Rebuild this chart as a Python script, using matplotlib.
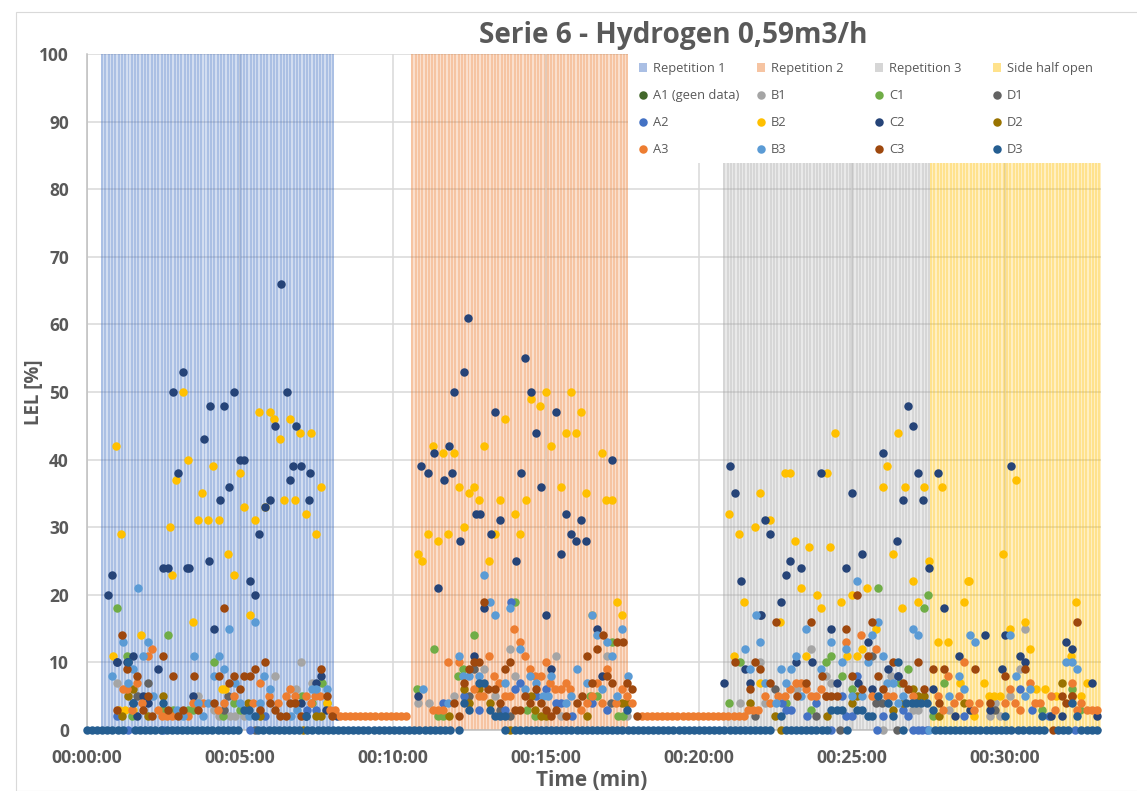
import numpy as np
from matplotlib import pyplot as plt
from matplotlib.patches import Patch, Rectangle

# time is in minutes, values are LEL in %
title = 'Serie 6 - Hydrogen 0,59m3/h'
xtick_minutes = [0, 5, 10, 15, 20, 25, 30]
xtick_labels = ['00:00:00', '00:05:00', '00:10:00', '00:15:00', '00:20:00', '00:25:00', '00:30:00']
ytick_values = [0, 10, 20, 30, 40, 50, 60, 70, 80, 90, 100]

# shaded test phases (start, end)
rep1_span = (0.46, 8.07)
rep2_span = (10.6, 17.67)
rep3_span = (20.8, 27.55)
side_span = (27.55, 33.14)
bar_step = 0.108

# sensors logged every 10 s, long runs sitting on a constant value
sample_step = 1 / 6
d3_zero_runs = [(0, 1.24), (1.57, 2.44), (2.6, 5.1), (5.6, 6.96), (7.2, 11.92), (12.16, 12.17),
                (13.66, 13.67), (14.0, 22.5), (22.84, 24.28), (24.83, 24.84), (26.68, 26.69),
                (27.7, 30.27), (30.44, 31.42), (31.74, 32.12), (32.5, 33.05)]
a3_two_runs = [(8.26, 10.45), (18.13, 21.55)]

a2_t = [0.98, 5.82, 7.18, 7.48, 1.46, 12.8, 11.64, 12.32, 13.99, 14.16, 13.85, 14.99, 14.66, 15.33, 15.49, 16.49, 17.0, 13.66, 15.84,
        26.51, 25.16, 24.68, 23.84, 22.86, 23.0, 24.99, 24.82, 26.0, 30.5, 26.84, 23.52, 26.67, 22.7, 28.67, 30.9, 31.45,
        1.35, 2.49, 5.33, 24.32, 25.83, 27.0, 27.15, 27.3, 27.44, 32.28]
a2_v = [2, 2, 3, 3, 3, 3, 4, 5, 6, 7, 19, 6, 5, 4, 4, 4, 3, 3, 2,
        8, 8, 5, 4, 3, 3, 2, 2, 2, 6, 2, 2, 3, 4, 2, 3, 2,
        0, 0, 0, 0, 0, 0, 0, 0, 0, 0]

b1_t = [0.98, 7.0, 6.14, 7.34, 6.82, 3.64, 4.15, 4.32, 4.67, 4.84, 5.14, 1.66, 12.98, 13.82, 13.99, 15.33, 17.0, 10.83, 11.17, 12.0, 13.33, 15.49, 17.66,
        30.67, 30.49, 23.66, 21.99, 21.34, 24.15, 24.31, 26.29, 23.19, 27.0, 27.17, 29.67, 30.16, 29.5, 29.83, 22.15, 28.18, 26.0]
b1_v = [7, 10, 8, 7, 6, 5, 3, 2, 2, 2, 2, 5, 9, 12, 8, 11, 11, 4, 4, 5, 5, 2, 2,
        15, 9, 12, 10, 4, 8, 7, 8, 6, 3, 3, 4, 5, 2, 2, 4, 3, 0]

c1_t = [0.98, 2.65, 1.32, 4.15, 7.67, 3.47, 2.82, 2.48, 1.46, 4.46, 4.81, 5.0, 7.02, 7.34, 7.83, 3.31,
        11.33, 12.66, 13.99, 17.17, 12.13, 10.8, 11.48, 11.64, 16.68, 16.44, 17.36, 17.53, 14.64, 14.37, 12.3,
        25.84, 27.5, 27.34, 21.34, 20.99, 24.33, 24.15, 24.68, 26.84, 28.0, 25.0, 32.18, 23.66, 22.83, 26.57, 27.66, 31.2, 32.45]
c1_v = [18, 14, 11, 10, 7, 3, 3, 3, 2, 2, 4, 3, 5, 4, 4, 3,
        12, 14, 19, 13, 8, 6, 2, 2, 5, 5, 2, 2, 2, 3, 9,
        21, 20, 18, 10, 4, 11, 10, 8, 9, 7, 6, 6, 3, 4, 7, 2, 3, 3]

d1_t = [1.98, 1.64, 4.62, 4.48, 5.49, 12.66, 12.49, 13.82, 13.5, 17.13,
        25.67, 22.5, 21.84, 23.82, 25.8, 25.97, 29.67, 24.6, 26.48]
d1_v = [7, 5, 5, 3, 0, 9, 5, 2, 3, 4,
        11, 6, 2, 2, 4, 4, 3, 0, 0]

b2_t = [0.85, 0.95, 1.11, 1.76, 2.7, 2.78, 2.9, 3.13, 3.3, 3.46, 3.63, 3.76, 3.95, 4.12, 4.31, 4.5, 4.6, 4.8, 5.0, 5.13, 5.33, 5.49, 5.62, 5.82, 5.98, 6.12, 6.3, 6.44, 6.63, 6.8, 6.96, 7.16, 7.32, 7.5, 7.65,
        1.06, 1.25, 1.5, 4.41, 7.85,
        10.82, 10.95, 11.14, 11.3, 11.47, 11.63, 11.8, 12.0, 12.16, 12.32, 12.48, 12.65, 12.8, 12.97, 13.14, 13.32, 13.5, 13.66, 14.0, 14.15, 14.35, 14.5, 14.8, 15.0, 15.16, 15.5, 15.65, 15.82, 15.98, 16.14, 16.3, 16.83, 16.96, 17.16, 17.32, 17.5, 16.5,
        20.98, 21.14, 21.3, 21.48, 21.84, 22.0, 22.0, 22.32, 22.65, 22.8, 22.97, 23.14, 23.32, 23.5, 23.6, 23.86, 23.99, 24.18, 24.28, 24.44, 24.65, 24.83, 24.99, 25.15, 25.33, 25.5, 25.8, 26.0, 26.14, 26.34, 26.5, 26.65, 26.73, 27.0, 27.15, 27.35, 27.52,
        27.8, 27.94, 28.15, 28.53, 28.66, 28.8, 28.83, 29.0, 29.3, 29.48, 29.65, 29.84, 29.93, 30.16, 30.36, 30.65, 30.83, 31.0, 31.32, 31.67, 32.15, 32.33, 32.5, 32.67]
b2_v = [11, 42, 29, 14, 30, 23, 37, 50, 40, 16, 31, 35, 31, 39, 31, 6, 26, 23, 38, 33, 17, 31, 47, 33, 47, 46, 43, 34, 46, 34, 44, 32, 44, 29, 36,
        3, 3, 3, 6, 4,
        26, 25, 29, 42, 28, 41, 29, 41, 36, 30, 35, 36, 34, 42, 25, 29, 34, 46, 32, 29, 34, 49, 48, 50, 42, 36, 44, 50, 44, 47, 35, 41, 34, 34, 19, 17, 17,
        32, 11, 29, 19, 30, 35, 7, 31, 16, 38, 38, 28, 21, 11, 27, 20, 18, 38, 27, 44, 19, 11, 20, 11, 12, 21, 15, 36, 39, 26, 44, 18, 36, 22, 19, 36, 25,
        13, 36, 13, 7, 19, 22, 22, 2, 7, 5, 5, 5, 26, 15, 37, 16, 12, 6, 6, 5, 11, 19, 5, 7]

c2_t = [0.68, 0.83, 0.98, 1.32, 1.49, 2.32, 2.47, 2.64, 2.82, 2.97, 3.14, 3.27, 3.32, 3.81, 4.0, 4.02, 4.15, 4.35, 4.48, 4.64, 4.81, 5.0, 5.13, 5.32, 5.49, 5.62, 5.82, 5.98, 6.15, 6.33, 6.53, 6.63, 6.73, 6.82, 7.0, 7.25, 7.3,
        0.97, 1.33, 7.48, 7.66, 3.48, 1.49, 2.0, 1.64, 1.82, 6.98, 7.81, 8.16, 7.16,
        10.83, 10.9, 11.14, 11.34, 11.47, 11.67, 11.83, 11.93, 12.0, 12.2, 12.32, 12.45, 12.66, 12.7, 12.84, 12.98, 13.2, 13.33, 13.5, 14.02, 14.18, 14.31, 14.5, 14.67, 14.84, 15.0, 15.16, 15.33, 15.5, 15.65, 15.82, 15.98, 16.14, 16.3, 16.66, 16.82, 17.16,
        20.83, 21.0, 21.18, 21.36, 21.5, 21.66, 22.0, 22.02, 22.16, 22.32, 22.68, 22.83, 22.99, 23.18, 23.35, 23.68, 24.0, 24.33, 24.5, 24.82, 25.0, 25.2, 25.33, 25.51, 25.64, 26.0, 26.18, 26.47, 26.51, 26.67, 26.83, 27.0, 27.16, 27.32, 27.51, 27.66,
        27.8, 28.0, 28.36, 28.5, 28.85, 29.34, 29.5, 29.89, 30.0, 30.2, 30.5, 30.67, 31.51, 31.85, 32.0, 32.19, 32.84, 33.0]
c2_v = [20, 23, 10, 10, 11, 9, 24, 24, 50, 38, 53, 24, 24, 43, 25, 48, 15, 34, 48, 36, 50, 40, 40, 22, 20, 29, 33, 34, 45, 66, 50, 37, 39, 45, 39, 34, 38,
        10, 10, 7, 8, 5, 4, 4, 2, 5, 4, 3, 2, 2,
        5, 39, 38, 41, 21, 37, 42, 38, 50, 28, 53, 61, 11, 32, 32, 18, 29, 47, 31, 25, 38, 55, 50, 44, 36, 17, 9, 47, 26, 32, 29, 28, 31, 28, 15, 8, 40,
        7, 39, 35, 22, 9, 7, 17, 17, 31, 29, 19, 23, 25, 10, 24, 10, 38, 15, 7, 24, 35, 7, 26, 13, 6, 41, 9, 28, 8, 34, 48, 45, 38, 34, 24, 6,
        38, 18, 2, 11, 3, 14, 3, 9, 14, 39, 11, 10, 2, 2, 13, 12, 7, 2]

d2_t = [1.14, 1.49, 1.34, 2.48, 1.98, 5.25, 5.65, 7.48, 7.66, 7.07,
        11.83, 12.32, 12.49, 12.82, 13.16, 14.5, 14.65, 14.84, 14.99, 16.34, 17.5, 17.66, 13.82,
        21.66, 24.17, 22.5, 25.0, 26.35, 27.0, 27.17, 27.34, 27.83, 28.66, 31.85, 32.18, 25.16, 26.67, 22.67]
d2_v = [2, 6, 5, 5, 2, 4, 2, 2, 2, 0,
        2, 6, 4, 6, 4, 5, 3, 2, 2, 2, 4, 4, 0,
        4, 2, 2, 4, 3, 6, 5, 5, 2, 4, 7, 5, 5, 4, 0]

a3_t = [2.14, 1.98, 1.64, 1.17, 1.3, 5.65, 4.81, 6.63, 6.49, 5.96, 6.8, 7.15, 7.45, 7.61, 1.79, 3.45, 3.8, 4.48, 5.44, 6.25, 7.31, 2.31, 1.46, 4.29, 7.94, 8.1, 2.44, 2.6, 2.77, 3.31,
        11.8, 12.15, 13.14, 13.97, 14.15, 14.31, 14.99, 14.48, 13.31, 14.65, 14.83, 16.99, 15.64, 16.66, 15.14, 13.46, 12.65, 15.3, 15.49, 15.8, 17.47, 12.81, 12.95, 13.66, 13.82, 17.64, 16.49, 16.33, 16.82, 17.3, 17.82, 11.32, 11.48, 11.64, 16.13,
        25.31, 24.82, 25.8, 23.16, 23.32, 22.98, 23.49, 23.98, 22.59, 22.8, 22.15, 23.66, 23.82, 24.15, 25.64, 26.13, 26.35, 21.61, 21.77, 21.94, 22.32,
        28.66, 28.15, 30.83, 32.18, 30.16, 31.49, 28.5, 27.81, 27.0, 28.33, 28.83, 29.16, 30.0, 30.32, 30.99, 31.15, 32.5, 27.98, 29.0, 30.49, 32.34, 32.67, 32.83, 33.0, 31.65]
a3_v = [12, 11, 7, 6, 6, 7, 5, 6, 5, 5, 5, 5, 5, 5, 4, 4, 4, 4, 4, 4, 4, 3, 3, 3, 3, 3, 2, 2, 2, 2,
        10, 10, 11, 15, 13, 11, 10, 9, 8, 8, 8, 9, 7, 7, 7, 7, 6, 6, 6, 6, 6, 5, 5, 5, 5, 5, 5, 4, 4, 4, 4, 3, 3, 3, 3,
        14, 13, 12, 7, 7, 6, 6, 6, 5, 5, 5, 5, 5, 5, 5, 5, 5, 3, 3, 3, 4,
        10, 8, 7, 7, 6, 5, 5, 5, 5, 4, 4, 4, 4, 4, 4, 4, 4, 3, 3, 3, 3, 3, 3, 3, 3]

b3_t = [1.66, 5.49, 4.65, 1.17, 1.98, 1.82, 3.49, 4.32, 0.83, 1.51, 4.48, 4.15, 1.34, 4.84, 5.8, 5.98, 7.34, 7.5, 7.83, 2.17, 3.64, 3.97, 5.65, 5.0, 2.94, 3.8, 3.15, 5.3, 6.68, 6.85,
        12.98, 12.15, 13.16, 13.82, 13.33, 16.49, 17.49, 16.66, 17.0, 17.15, 14.16, 16.0, 14.48, 15.16, 17.67, 12.3, 12.5, 12.82, 10.99, 13.66, 14.66, 16.33, 14.31, 16.84, 14.91, 15.08, 15.82, 17.33, 11.8, 15.65,
        25.17, 21.85, 25.84, 23.49, 27.0, 27.17, 25.66, 22.0, 24.33, 21.5, 24.82, 23.17, 26.0, 25.51, 24.69, 21.66, 22.68, 23.0, 24.0, 22.83, 26.16, 26.33, 25.0, 25.34, 26.67, 26.51, 22.15, 23.35, 22.51, 27.52,
        28.85, 29.02, 30.16, 32.0, 32.18, 32.34, 28.67, 28.5, 30.36, 30.83, 28.18, 30.67]
b3_v = [21, 16, 15, 13, 13, 11, 11, 11, 8, 9, 9, 8, 7, 7, 8, 6, 6, 6, 6, 5, 4, 4, 4, 4, 3, 2, 2, 2, 2, 3,
        23, 11, 19, 18, 17, 17, 15, 14, 13, 11, 12, 9, 8, 8, 8, 8, 8, 8, 6, 7, 7, 7, 6, 6, 5, 5, 5, 5, 4, 4,
        22, 17, 16, 15, 15, 14, 14, 13, 13, 12, 12, 11, 11, 10, 10, 9, 9, 9, 9, 7, 7, 7, 5, 5, 5, 4, 7, 5, 4, 0,
        14, 13, 14, 10, 10, 9, 6, 8, 8, 6, 5, 5]

c3_t = [1.14, 4.47, 2.48, 5.82, 1.32, 5.49, 7.66, 1.64, 2.82, 3.49, 4.32, 4.81, 5.14, 5.33, 4.65, 5.0, 1.98, 7.83, 5.98, 4.15, 6.63, 6.8, 1.82, 0.98, 2.66, 3.15, 3.64, 5.65, 6.14, 2.14, 2.97, 6.3, 6.49, 7.0, 8.0,
        12.98, 12.66, 12.82, 13.82, 13.65, 12.49, 12.32, 16.85, 17.33, 17.53, 16.67, 16.34, 17.0, 16.49, 17.15, 17.66, 17.82, 13.12, 13.33, 14.31, 14.66, 16.17, 12.0, 13.5, 13.99, 14.15, 14.49, 14.84, 14.99, 15.33, 16.0, 12.15, 15.15, 15.65, 17.98,
        21.17, 21.84, 22.0, 22.51, 23.66, 24.82, 25.16, 25.66, 24.02, 25.01, 25.84, 25.51, 26.33, 27.17, 21.66, 22.33, 23.49, 23.19, 24.15, 24.3, 24.5, 25.34, 26.0, 26.67, 26.84, 27.34,
        27.66, 28.01, 29.02, 30.0, 30.67, 32.34, 27.83, 31.85, 32.18, 29.5, 32.0, 31.58]
c3_v = [14, 18, 11, 10, 9, 9, 9, 8, 8, 8, 8, 8, 8, 8, 7, 6, 5, 5, 4, 4, 4, 4, 3, 3, 3, 3, 3, 3, 3, 2, 2, 2, 2, 2, 2,
        19, 10, 10, 10, 9, 9, 7, 14, 13, 13, 12, 11, 8, 7, 7, 7, 6, 6, 6, 5, 6, 5, 4, 4, 3, 3, 4, 4, 3, 3, 4, 2, 2, 2, 2,
        10, 10, 9, 16, 16, 15, 20, 16, 8, 8, 8, 11, 10, 10, 6, 7, 7, 5, 5, 5, 5, 6, 6, 7, 6, 6,
        9, 9, 9, 8, 9, 16, 4, 5, 5, 4, 4, 0]

d3_t = [1.33, 2.48, 5.49, 7.16, 5.14, 5.3, 1.49,
        12.82, 12.98, 12.49, 13.16, 13.33, 13.5, 13.66, 12.33, 17.66,
        26.51, 25.15, 25.34, 24.3, 24.5, 24.66, 25.51, 25.67, 25.84, 26.18, 26.33, 26.78, 26.95, 27.1, 27.27, 27.44, 22.68,
        32.18, 32.34, 27.66, 30.0, 31.2]
d3_v = [10, 4, 2, 2, 3, 3, 4,
        7, 7, 3, 3, 2, 2, 2, 4, 3,
        10, 3, 3, 3, 3, 3, 2, 2, 5, 4, 2, 4, 4, 4, 4, 4, 2,
        4, 2, 3, 2, 2]

grey_text = '#595959'
plt.rcParams['font.family'] = ['Open Sans', 'DejaVu Sans']

fig = plt.figure(figsize=(11.37, 7.91), dpi=100)
ax = fig.add_axes([87 / 1137, 1 - 730 / 791, (1101 - 87) / 1137, (730 - 54) / 791])
fig.add_artist(Rectangle((16 / 1137, 0), 1, 1 - 12 / 791, transform=fig.transFigure,
                         facecolor='none', edgecolor='#d9d9d9', linewidth=0.8))


def bars(span, color, label):
    # wash under the stripes, the stripes alias against the pixel grid like in the original
    ax.bar(span[0], 100, width=span[1] - span[0], align='edge', color=color, alpha=0.24,
           linewidth=0, zorder=1)
    times = np.arange(span[0], span[1], bar_step)
    ax.bar(times, 100, width=bar_step * 0.6, align='edge', color=color, alpha=0.27,
           linewidth=0, zorder=1)
    return Patch(color=color, alpha=0.45, linewidth=0, label=label)


def expand(runs):
    return np.concatenate([np.arange(a, b, sample_step) for a, b in runs])


rep1 = bars(rep1_span, '#4472c4', 'Repetition 1')
rep2 = bars(rep2_span, '#ed7d31', 'Repetition 2')
rep3 = bars(rep3_span, '#a5a5a5', 'Repetition 3')
side = bars(side_span, '#ffc000', 'Side half open')

a3_runs = expand(a3_two_runs)
d3_runs = expand(d3_zero_runs)

series = [
    ('A1 (geen data)', [], [], '#43682b'),
    ('B1', b1_t, b1_v, '#a5a5a5'),
    ('C1', c1_t, c1_v, '#70ad47'),
    ('D1', d1_t, d1_v, '#636363'),
    ('A2', a2_t, a2_v, '#4472c4'),
    ('B2', b2_t, b2_v, '#ffc000'),
    ('C2', c2_t, c2_v, '#264478'),
    ('D2', d2_t, d2_v, '#997300'),
    ('A3', a3_t + list(a3_runs), a3_v + [2] * len(a3_runs), '#ed7d31'),
    ('B3', b3_t, b3_v, '#5b9bd5'),
    ('C3', c3_t, c3_v, '#9e480e'),
    ('D3', d3_t + list(d3_runs), d3_v + [0] * len(d3_runs), '#255e91'),
]

markers = {}
for i, (name, t, v, col) in enumerate(series):
    line, = ax.plot(t, v, 'o', color=col, markersize=6.1, markeredgewidth=0, label=name,
                    clip_on=False, zorder=3 + i * 0.01)
    markers[name] = line

ax.set_xlim(0, 33.14)
ax.set_ylim(0, 100)
ax.set_xticks(xtick_minutes)
ax.set_xticklabels(xtick_labels)
ax.set_yticks(ytick_values)
ax.tick_params(length=0, colors=grey_text, labelsize=12.8, pad=14)
ax.tick_params(axis='y', labelsize=12.5, pad=13)
for lab in ax.get_xticklabels() + ax.get_yticklabels():
    lab.set_fontweight('bold')
ax.grid(True, color='#d9d9d9', linewidth=1.1, zorder=0)
ax.set_axisbelow(True)
for s in ['top', 'right']:
    ax.spines[s].set_visible(False)
for s in ['left', 'bottom']:
    ax.spines[s].set_color('#bfbfbf')
    ax.spines[s].set_linewidth(1.1)

fig.text(673 / 1137, 1 - 36 / 791, title, ha='center', va='center', fontsize=20.2,
         fontweight='bold', color=grey_text)
fig.text(34 / 1137, 1 - 392 / 791, 'LEL [%]', rotation=90, ha='center', va='center',
         fontsize=13.5, fontweight='bold', color=grey_text)
fig.text(592 / 1137, 1 - 780 / 791, 'Time (min)', ha='center', va='center',
         fontsize=15, fontweight='bold', color=grey_text)

# white block behind the legend, it hides the tops of the bars
ax.add_patch(Rectangle(((628 - 87) / 1014, 1 - 109 / 676), (1102 - 628) / 1014, 109 / 676,
                       transform=ax.transAxes, facecolor='white', edgecolor='none',
                       clip_on=False, zorder=9))

# one legend per column so the columns sit at a fixed spacing
columns = [[rep1, markers['A1 (geen data)'], markers['A2'], markers['A3']],
           [rep2, markers['B1'], markers['B2'], markers['B3']],
           [rep3, markers['C1'], markers['C2'], markers['C3']],
           [side, markers['D1'], markers['D2'], markers['D3']]]
for col_no, col_handles in enumerate(columns):
    leg = ax.legend(col_handles, [h.get_label() for h in col_handles], loc='upper left',
                    bbox_to_anchor=((639 + col_no * 118 - 87) / 1014, 1 - 8 / 676), frameon=False,
                    fontsize=9.3, labelcolor=grey_text, handlelength=0.65, handletextpad=0.45,
                    labelspacing=1.09, borderaxespad=0, borderpad=0)
    leg.set_zorder(10)
    ax.add_artist(leg)
ax.legend_ = None

plt.savefig('out.png', dpi=100)
